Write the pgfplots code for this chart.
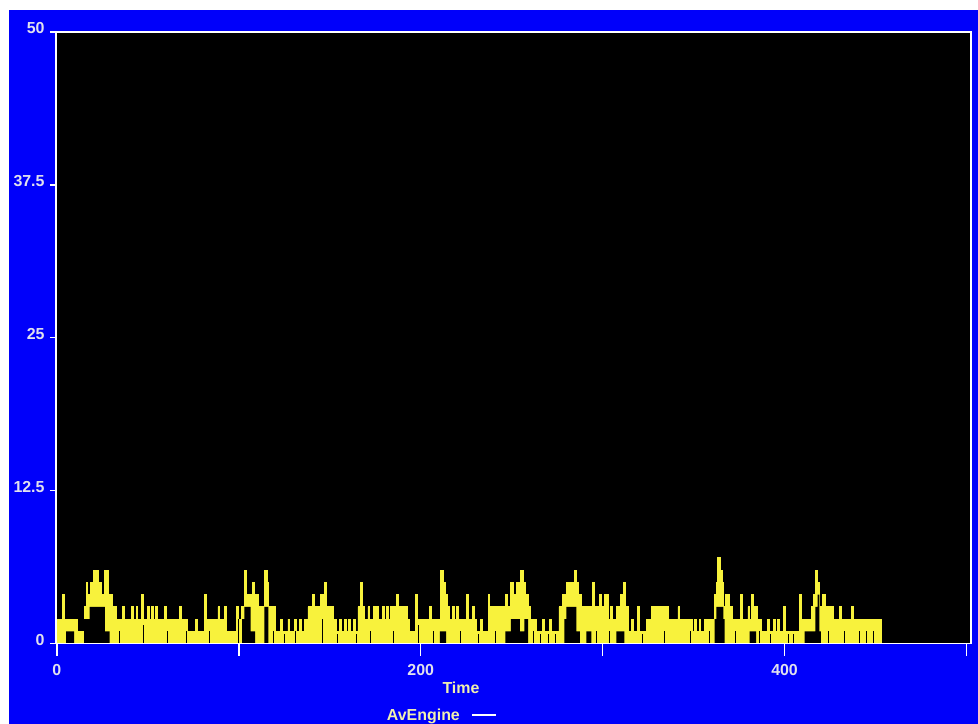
\documentclass[border=0pt]{standalone}
\usepackage{pgfplots}
\pgfplotsset{compat=1.18}
\usepackage{pgfplotstable}
\usepackage{fontspec}
\setmainfont{Liberation Sans}
\definecolor{bgblue}{RGB}{0,0,250}
\definecolor{sigyellow}{RGB}{248,242,60}
\definecolor{ticktext}{RGB}{225,225,238}
\definecolor{labtext}{RGB}{240,240,175}

% upper envelope of the AvEngine signal (value holds from t until next t)
\pgfplotstableread{
t v
0 2
3 4
4 2
11 1
15 3
16 5
17 4
18.5 5
20 6
23 5
24.5 4
26 6
28.5 4
30.5 3
32.5 2
36 3
37 2
41 3
42 2
43.5 3
44.5 2
46.5 4
47.5 2
50 3
51 2
52 3
53 2
54 3
55 2
59 3
60 2
67.5 3
68.5 2
72 1
76 2
77 1
81 4
82 2
88.5 3
89.5 2
92 3
93 1
98.5 3
99.5 2
101.5 3
103 6
104 4
107.5 5
108.5 4
110.5 3
114 6
115.5 5
116.5 3
120 1
123 2
124 1
127 2
128 1
130.5 2
131.5 1
133.5 2
134.5 1
136 2
138 3
140.5 4
141.5 3
145 4
147 5
148 3
151.8 1
152.5 2
153.5 1
155.5 2
156.5 1
158 2
159 1
160.5 2
161.5 1
163 2
164 1
165.5 3
167 5
168 3
169 2
171 3
172 2
173.8 3
175 2
175.5 3
176.5 2
179 3
180 2
181 3
182 2
183.5 3
186.5 4
187.5 3
192.5 2
194 1
197 4
198 2
205 3
206 2
211 6
212.5 5
213.5 4
214.5 3
216 2
217.5 3
218.5 2
219.5 3
220.5 2
225 4
226 2
228.5 3
229.5 2
230.5 1
233 2
234 1
237 4
238 3
246.5 4
247.5 3
249.5 5
251 4
252.5 5
254 4
255 6
256.5 5
257.5 4
259 3
260.5 2
263.5 1
267 2
268 1
271 2
272 1
276 3
278 4
280 5
284.5 6
285.5 5
286.5 4
288.5 3
294.5 5
295.5 3
298 4
299.5 3
301 4
303 2
304.5 3
305.5 2
307.5 3
310 4
311.5 5
312.5 3
314 1
316 2
317 1
319.3 3
320.3 1
324 2
326.7 3
327.7 2
328.5 3
335.9 2
341.4 3
342.4 2
349.5 1
350.5 2
351.5 1
353 2
354 1
356 2
361.5 4
362.5 5
363.3 7
364.7 6
365.6 5
366.3 3
367.4 4
369.8 3
371.6 2
375.8 4
376.7 2
379.9 3
380.8 2
381.7 4
383 3
385.3 2
387.2 1
390.5 2
391.5 1
394 2
395 1
396 2
397 1
399.5 3
400.5 1
408.2 4
409.2 2
414.7 3
416 4
416.9 6
418.2 5
419.2 3
421 4
422.5 3
426.6 2
430.2 3
431.1 2
437 3
438 2
453 2
}\envelope

% lower limit of the signal where it stays above zero (black gaps)
\pgfplotstableread{
t v
0 0
5 1
9.5 0
15 2
18 3
26.3 0
26.5 1
29 0
101.8 2
103 3
106.5 1
109 0
114 3
116.3 0
210.5 1
214 0
246.5 1
249.5 2
254.5 1
257 2
259 0
279 2
280 3
285.5 1
287.5 0
291 1
293.8 0
307.5 1
312 0
361.5 2
362.5 3
366.3 2
367 0
380.8 1
384.4 0
411 1
416.9 3
418.2 4
419.2 1
420 0
453 0
}\floorgaps

% single-sample drops of the signal
\pgfplotstableread{
t v
34.5 1
47.8 1.5
60.5 1
71 1
84 1
99.8 2
119 1
125 0.8
131 1
146 2
154 0.8
164.5 0.8
172.5 1
185 1
198.5 1.5
207 1
222 1
231.5 0.8
241 1
262 1
266 0.8
270 0.8
274 0.8
296.5 1
303.8 1
322 0.8
334 1
348 1
358.5 1
373 1
386 1
392.5 0.8
402 0.8
405 0.8
424 1
433 1
441 1
445 1
449 1
}\drops

\begin{document}
\begin{tikzpicture}
\fill[white] (0bp,0bp) rectangle (978bp,724bp);
\fill[bgblue] (9bp,0bp) rectangle (978bp,714bp);
\begin{axis}[
  at={(56bp,80.5bp)}, anchor=south west,
  width=915bp, height=611.5bp, scale only axis,
  xmin=-0.5, xmax=502.5, ymin=0, ymax=50,
  axis background/.style={fill=black},
  axis line style={white, line width=1.6bp},
  axis on top,
  tick align=outside,
  tick pos=left,
  xtick={0,100,...,500}, xticklabels={0,,200,,400,},
  ytick={0,12.5,25,37.5,50},
  minor tick num=0,
  tick style={white, line width=1.4bp},
  xtick style={/pgfplots/major tick length=12bp},
  ytick style={/pgfplots/major tick length=6bp},
  /pgf/number format/assume math mode=true,
  ticklabel style={font=\bfseries\fontsize{16}{18}\selectfont, text=ticktext, inner sep=0pt},
  yticklabel style={anchor=base east, xshift=-7bp, yshift=-2bp},
  xticklabel style={anchor=north, yshift=-16.5bp},
  xlabel={Time},
  xlabel style={at={(rel axis cs:0.4426,0)}, anchor=base, yshift=-49.5bp, inner sep=0pt,
    font=\bfseries\fontsize{16}{18}\selectfont, text=labtext},
  legend style={at={(rel axis cs:0.4205,-0.117)}, anchor=center, draw=none, fill=none,
    text=labtext, font=\bfseries\fontsize{16}{18}\selectfont, inner sep=0pt},
  legend plot pos=right,
  legend image code/.code={\path[draw=none,fill=none] (0bp,0bp) -- (2bp,0bp); \draw[#1] (10bp,0bp) -- (34bp,0bp);},
]
\addplot[const plot, fill=sigyellow, draw=sigyellow, line width=0.8bp, forget plot] table[x=t,y=v] {\envelope} \closedcycle;
\addplot[const plot, fill=black, draw=none, forget plot] table[x=t,y=v] {\floorgaps} \closedcycle;
\addplot[ycomb, black, line width=0.9bp, forget plot] table[x=t,y=v] {\drops};
\addlegendimage{white, line width=1.5bp}
\addlegendentry{AvEngine}
\end{axis}
\pgfresetboundingbox
\path[use as bounding box] (0bp,0bp) rectangle (978bp,724bp);
\end{tikzpicture}
\end{document}
